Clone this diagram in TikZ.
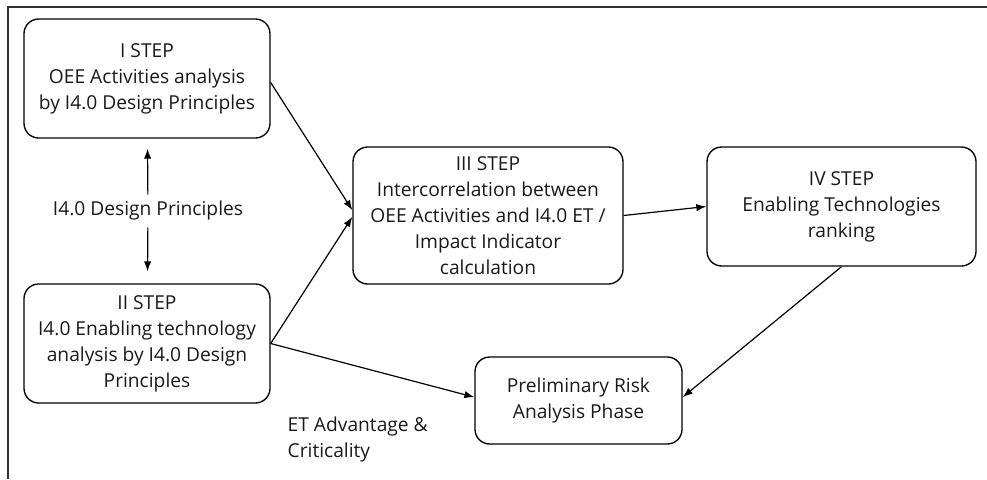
\documentclass[tikz,border=0pt]{standalone}
\usepackage{fontspec}
\setmainfont{Open Sans}
\usetikzlibrary{positioning}
\usetikzlibrary{arrows.meta}

\begin{document}
\begin{tikzpicture}[x=0.75pt,y=-0.75pt,
        stepbox/.style={draw,line width=1pt,rounded corners=11pt,align=center,
            font=\fontsize{14.4}{19.5}\selectfont,text=black!90,inner sep=2pt},
        conn/.style={-{Latex[length=7.5pt,width=5.5pt]},line width=.9pt}]
    \useasboundingbox (0,0) rectangle (987,479);

    \draw[line width=1.1pt,black!80] (8,479) -- (8,7) -- (987,7);

    \node[stepbox,minimum width=184.5pt,minimum height=89.25pt] (s1) at (147,78.5)
        {I STEP\\OEE Activities analysis\\by I4.0 Design Principles};
    \node[stepbox,minimum width=184.5pt,minimum height=89.25pt] (s2) at (147,343.5)
        {II STEP\\I4.0 Enabling technology\\analysis by I4.0 Design\\Principles};
    \node[stepbox,minimum width=202.5pt,minimum height=102.75pt] (s3) at (488,215.5)
        {III STEP\\Intercorrelation between\\OEE Activities and I4.0 ET /\\Impact Indicator\\calculation};
    \node[stepbox,minimum width=201.75pt,minimum height=89.25pt] (s4) at (841.5,206.5)
        {IV STEP\\Enabling Technologies\\ranking};
    \node[stepbox,minimum width=155.25pt,minimum height=65.25pt] (risk) at (578.5,400.5)
        {Preliminary Risk\\Analysis Phase};

    \node[font=\fontsize{14.4}{19.5}\selectfont,text=black!90,minimum height=24pt] (dp) at (148,211)
        {I4.0 Design Principles};
    \node[font=\fontsize{14.4}{19.5}\selectfont,text=black!90,align=left,anchor=base west] (et) at (283,457)
        {ET Advantage \&\\Criticality};

    \path[conn]
        (dp) edge[shorten >=7.5pt] (s1)
        (dp) edge[shorten >=9pt] (s2)
        ([yshift=-3pt]s1.east) edge ([yshift=4pt]s3.west)
        (s2.east) edge ([yshift=-1pt]s3.west)
        (s2.east) edge ([yshift=2.5pt]risk.west)
        (s3.east) edge (s4.west)
        (s4.south) edge ([yshift=2.5pt]risk.east);
\end{tikzpicture}
\end{document}
